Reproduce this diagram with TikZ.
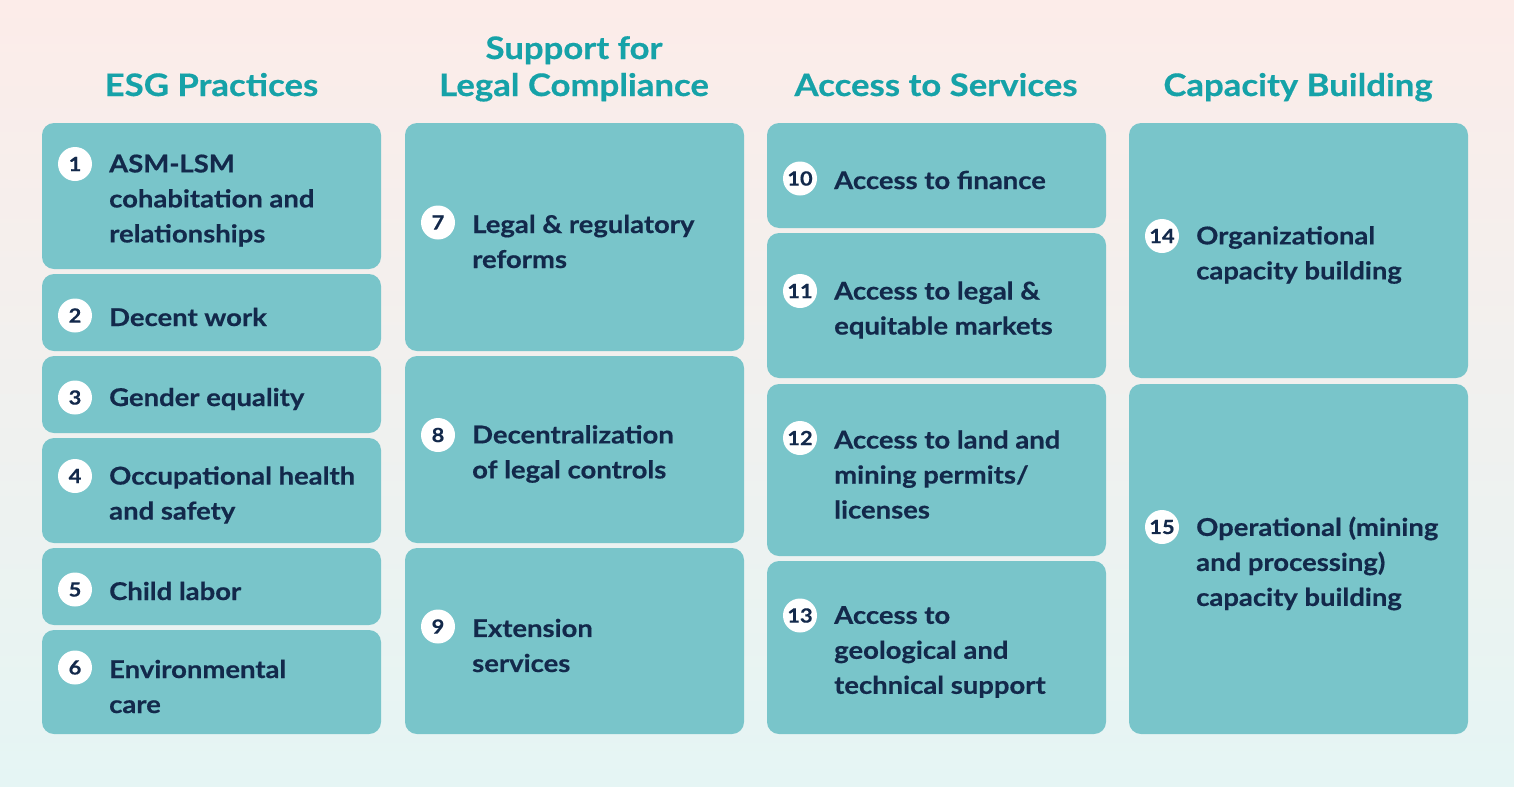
\documentclass[tikz,border=0pt]{standalone}
\usepackage{fontspec}
\setmainfont{Lato}[FakeStretch=1.12,BoldFeatures={FakeBold=0.5}]
\usepackage{xcolor}
\usepackage{tikz}
\definecolor{bgtop}{HTML}{FCECE9}
\definecolor{bgbot}{HTML}{E5F5F4}
\definecolor{tile}{HTML}{79C5CA}
\definecolor{headteal}{HTML}{16A2A8}
\definecolor{navy}{HTML}{13294B}

\begin{document}
\begin{tikzpicture}[x=1pt,y=-1pt,
   tilebox/.style={fill=tile,draw=none,rounded corners=12pt,minimum width=339pt,inner sep=0pt},
   numdot/.style={circle,fill=white,minimum size=34pt,inner sep=0pt,text=navy,font=\bfseries\fontsize{19.5}{19.5}\selectfont},
   itemtext/.style={anchor=west,align=left,inner sep=0pt,text=navy,font=\bfseries\fontsize{24.5}{35}\selectfont},
   colhead/.style={anchor=base,inner sep=0pt,text=headteal,font=\bfseries\fontsize{31}{37}\selectfont}]
\useasboundingbox (0,0) rectangle (1514,790);
% background
\shade[top color=bgtop,bottom color=bgbot] (0,0) rectangle (1514,786);
% column headings
\node[colhead] (h1) at (211.5,96) {ESG Practices};
\node[colhead] (h2b) at (574,96) {Legal Compliance};
\node[colhead] (h2a) at (574,59) {Support for};
\node[colhead] (h3) at (936,96) {Access to Services};
\node[colhead] (h4) at (1298,96) {Capacity Building};
% tiles: number / left x / top / bottom / lines / text
\foreach \k/\xl/\ya/\yb/\nl/\txt in {
   1/42/123/269/3/{ASM-LSM\\cohabitation and\\relationships},
   2/42/274/351/1/{Decent work},
   3/42/356/433/1/{Gender equality},
   4/42/438/543/2/{Occupational health\\and safety},
   5/42/548/625/1/{Child labor},
   6/42/630/734/2/{Environmental\\care},
   7/405/123/351/2/{Legal \& regulatory\\reforms},
   8/405/356/543/2/{Decentralization\\of legal controls},
   9/405/548/734/2/{Extension\\services},
   10/767/123/228/1/{Access to finance},
   11/767/233/378/2/{Access to legal \&\\equitable markets},
   12/767/384/556/3/{Access to land and\\mining permits/\\licenses},
   13/767/561/734/3/{Access to\\geological and\\technical support},
   14/1129/123/378/2/{Organizational\\capacity building},
   15/1129/384/734/3/{Operational (mining\\and processing)\\capacity building}}{
  \pgfmathsetmacro\ymid{(\ya+\yb)/2+4.5}
  \pgfmathsetmacro\yone{\ymid-(\nl-1)*17.5-1.5}
  \node[tilebox,minimum height={\yb-\ya}] (tile\k) at (\xl+169.5,{(\ya+\yb)/2}) {};
  \node[numdot] (num\k) at (\xl+33,\yone) {\k};
  \node[itemtext] (txt\k) at (\xl+67,\ymid) {\txt};
}
\end{tikzpicture}
\end{document}
